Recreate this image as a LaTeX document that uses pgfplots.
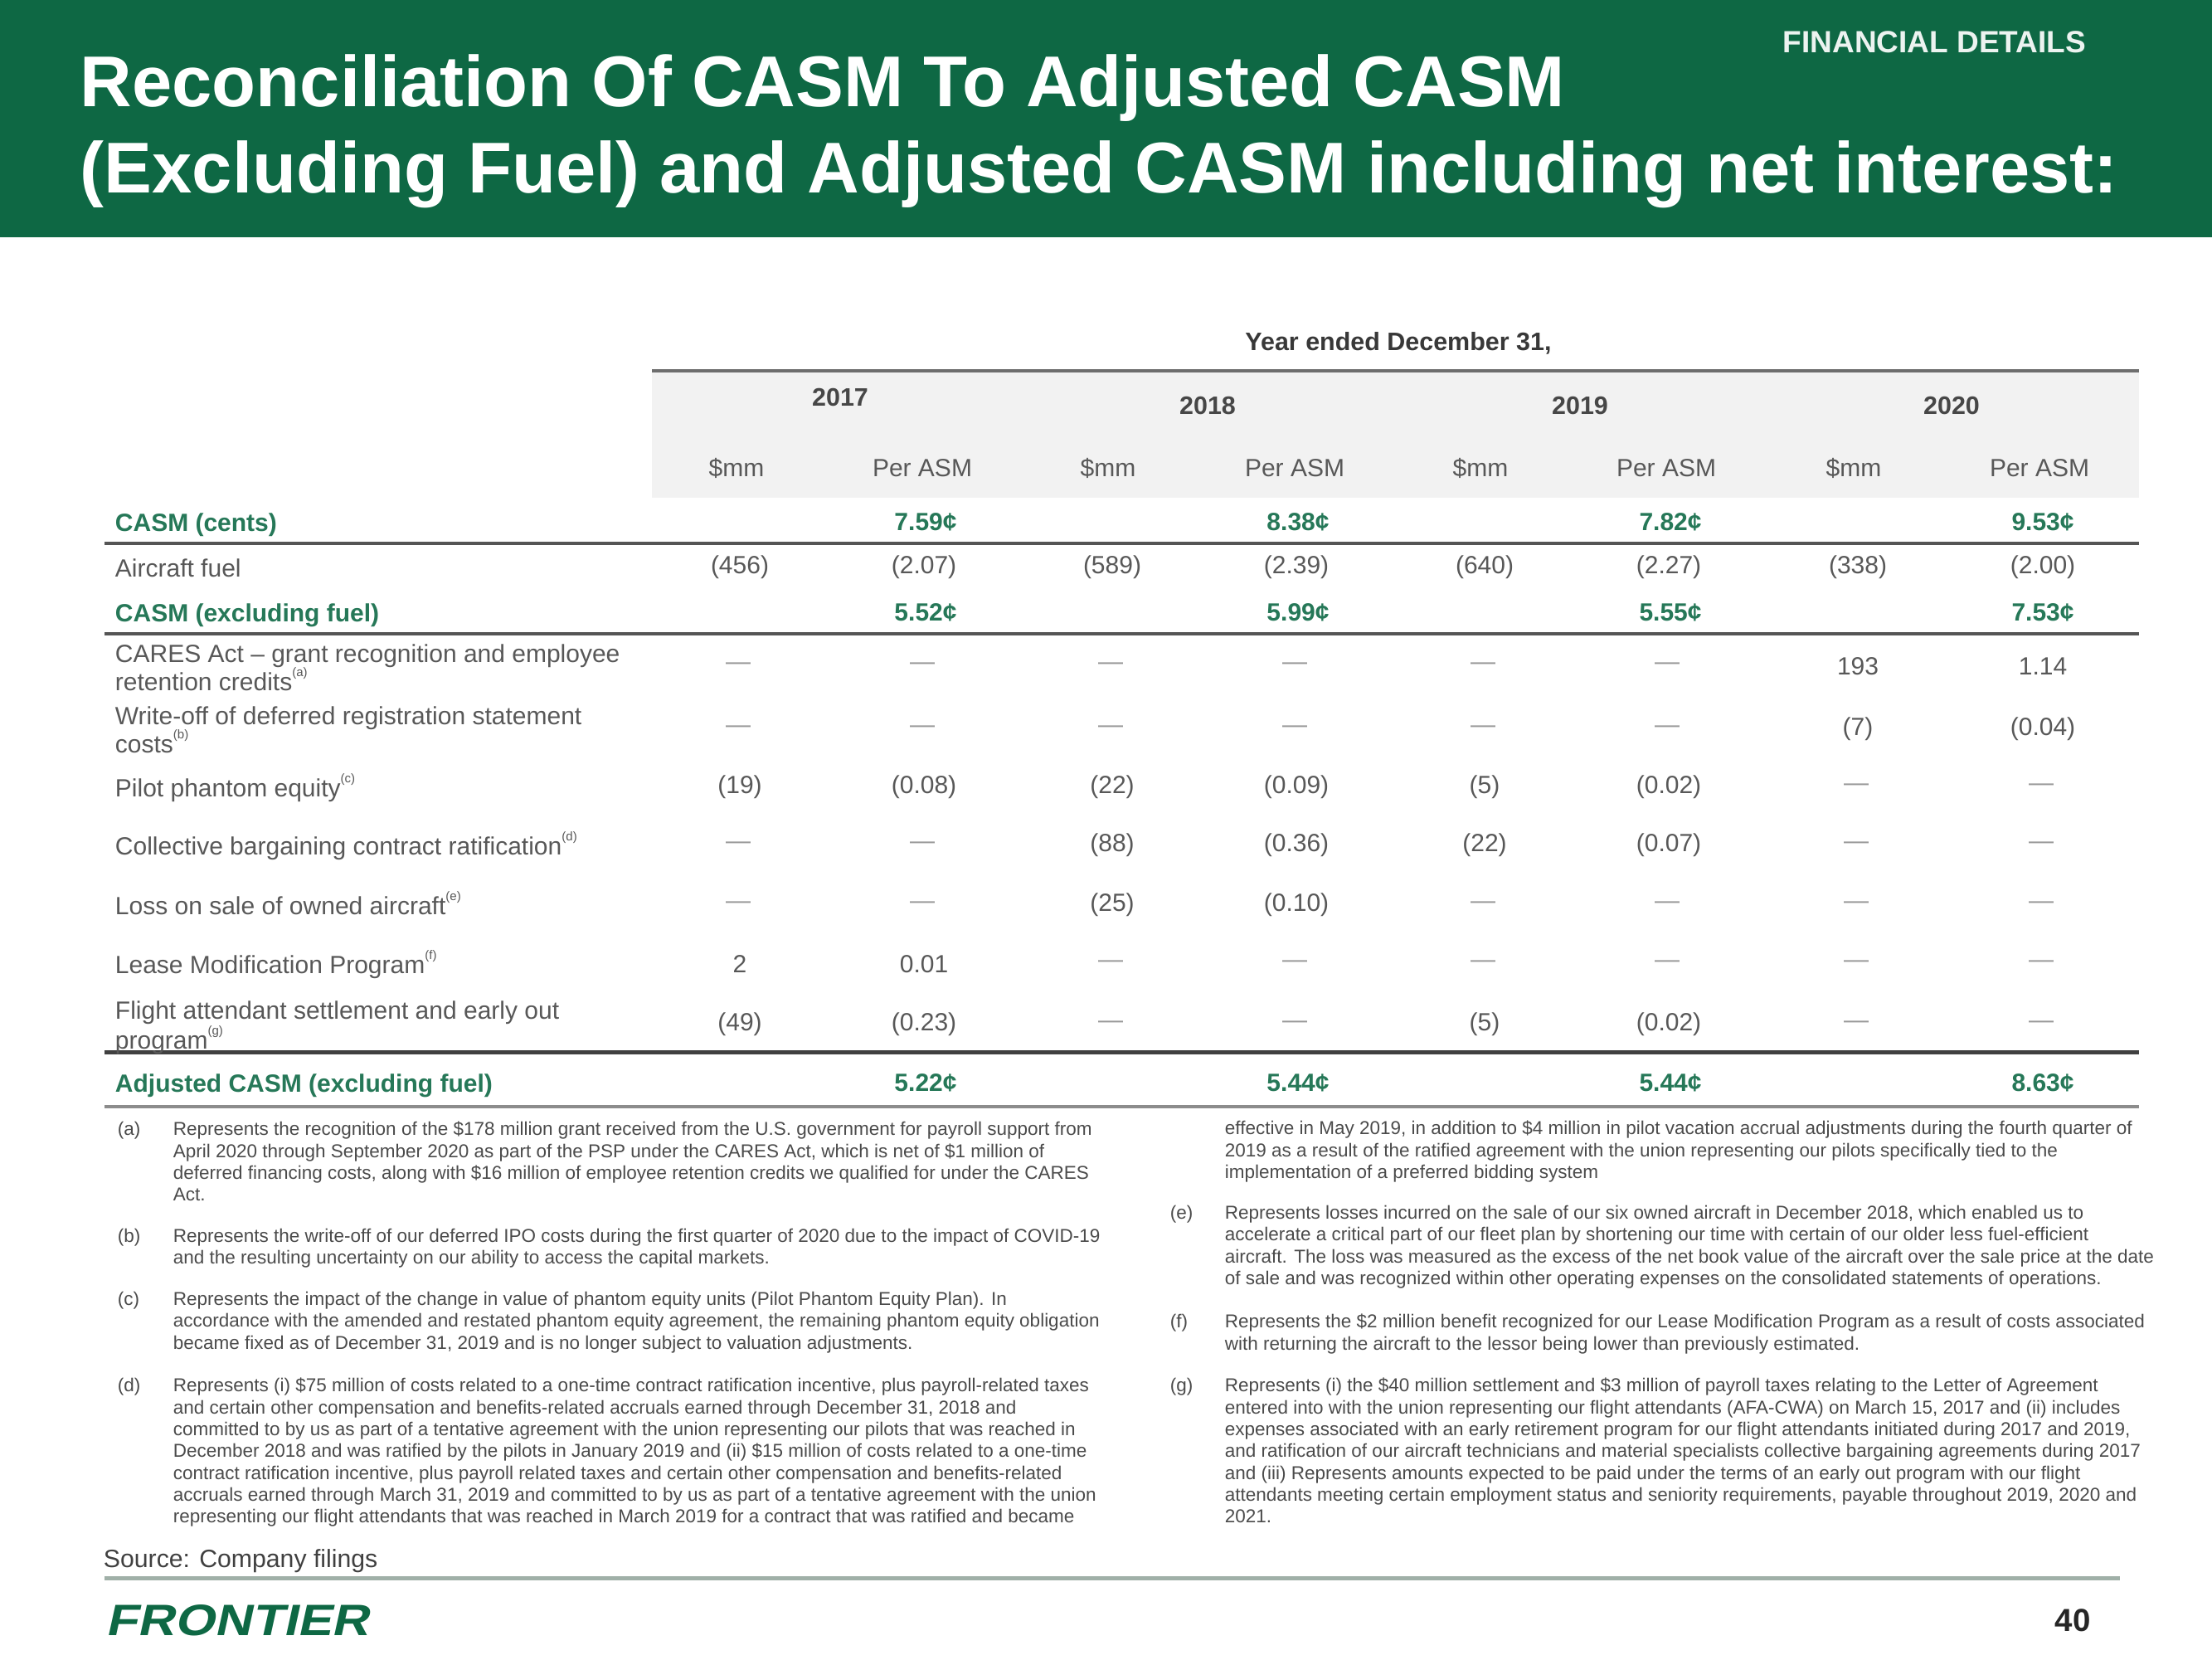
\documentclass[border=0pt]{standalone}
\usepackage{pgfplots}
\pgfplotsset{compat=1.18}
\usepackage{pgfplotstable}
\usepackage{fontspec}
\setmainfont{Liberation Sans}
\newfontfamily\logofont[UprightFont={* Bold},FakeSlant=0.22,FakeStretch=1.17]{Liberation Sans}

\definecolor{hdrgreen}{RGB}{14,104,68}
\definecolor{txtgreen}{RGB}{38,120,88}
\definecolor{txtgray}{RGB}{88,88,88}
\definecolor{boxgray}{RGB}{242,242,242}
\definecolor{rulegray}{RGB}{85,85,85}
\definecolor{fngray}{RGB}{75,75,75}
\definecolor{linegreen}{RGB}{160,176,168}

\newcommand{\fnm}[1]{\raisebox{0.55em}{\fontsize{3.2}{4}\selectfont(#1)}}

% x = column centre, y = row centre (pixel grid, 0 at top)
\pgfplotstableread{
x y val lab
892 684 -456 (456)
892 949 -19 (19)
892 1162 2 2
892 1235 -49 (49)
1341 684 -589 (589)
1341 949 -22 (22)
1341 1019 -88 (88)
1341 1091 -25 (25)
1790 684 -640 (640)
1790 949 -5 (5)
1790 1019 -22 (22)
1790 1235 -5 (5)
2240 684 -338 (338)
2240 803 193 193
2240 879 -7 (7)
1114 684 -2.07 (2.07)
1114 949 -0.08 (0.08)
1114 1162 0.01 0.01
1114 1235 -0.23 (0.23)
1563 684 -2.39 (2.39)
1563 949 -0.09 (0.09)
1563 1019 -0.36 (0.36)
1563 1091 -0.10 (0.10)
2012 684 -2.27 (2.27)
2012 949 -0.02 (0.02)
2012 1019 -0.07 (0.07)
2012 1235 -0.02 (0.02)
2463 684 -2.00 (2.00)
2463 803 1.14 1.14
2463 879 -0.04 (0.04)
}\valtable

% zero entries, shown as dashes
\pgfplotstableread{
x y val lab
890 803 0 —
890 879 0 —
890 1019 0 —
890 1091 0 —
1339 1162 0 —
1339 1235 0 —
1339 803 0 —
1339 879 0 —
1788 803 0 —
1788 879 0 —
1788 1091 0 —
1788 1162 0 —
2238 949 0 —
2238 1019 0 —
2238 1091 0 —
2238 1162 0 —
2238 1235 0 —
1112 803 0 —
1112 879 0 —
1112 1019 0 —
1112 1091 0 —
1561 803 0 —
1561 879 0 —
1561 1162 0 —
1561 1235 0 —
2010 803 0 —
2010 879 0 —
2010 1091 0 —
2010 1162 0 —
2461 949 0 —
2461 1019 0 —
2461 1091 0 —
2461 1162 0 —
2461 1235 0 —
}\zerotable

\pgfplotstableread{
x y val lab
1116 629 7.59 7.59¢
1116 738 5.52 5.52¢
1116 1305 5.22 5.22¢
1565 629 8.38 8.38¢
1565 738 5.99 5.99¢
1565 1305 5.44 5.44¢
2014 629 7.82 7.82¢
2014 738 5.55 5.55¢
2014 1305 5.44 5.44¢
2463 629 9.53 9.53¢
2463 738 7.53 7.53¢
2463 1305 8.63 8.63¢
}\totaltable

\begin{document}
\begin{tikzpicture}[
  lbl/.style={anchor=base west, inner sep=0, font=\fontsize{6.4}{7.7}\selectfont, text=txtgray},
  glbl/.style={anchor=base west, inner sep=0, font=\fontsize{6.4}{7.7}\selectfont\bfseries, text=txtgreen},
  hdr/.style={anchor=base, inner sep=0, font=\fontsize{6.4}{7.7}\selectfont, text=txtgray},
  yr/.style={anchor=base, inner sep=0, font=\fontsize{6.5}{7.8}\selectfont\bfseries, text=black!72},
  fn/.style={anchor=north west, inner sep=0, align=left, font=\fontsize{4.8}{5.62}\selectfont, text=fngray},
]
\begin{axis}[
  scale only axis, width=20cm, height=15cm,
  xmin=0, xmax=2667, ymin=0, ymax=2000, y dir=reverse,
  axis lines=none, ticks=none, clip=false,
]
% background and header band
\fill[white] (axis cs:0,0) rectangle (axis cs:2667,2000);
\fill[hdrgreen] (axis cs:0,0) rectangle (axis cs:2667,286);
\node[anchor=base west, inner sep=0, text=white, font=\fontsize{18.5}{22}\selectfont\bfseries] at (axis cs:96,128) {Reconciliation Of CASM To Adjusted CASM};
\node[anchor=base west, inner sep=0, text=white, font=\fontsize{18.5}{22}\selectfont\bfseries] at (axis cs:96,232) {(Excluding Fuel) and Adjusted CASM including net interest:};
\node[anchor=base east, inner sep=0, text=white!92!hdrgreen, font=\fontsize{7.9}{9}\selectfont\bfseries] at (axis cs:2516,63) {FINANCIAL DETAILS};

% table header
\node[anchor=base, inner sep=0, font=\fontsize{6.5}{7.8}\selectfont\bfseries, text=black!78] at (axis cs:1686,422) {Year ended December 31,};
\fill[boxgray] (axis cs:786,447) rectangle (axis cs:2579,600);
\draw[line width=0.85pt, rulegray!85] (axis cs:786,447) -- (axis cs:2579,447);
\node[yr] at (axis cs:1013,489) {2017};
\node[yr] at (axis cs:1456,499) {2018};
\node[yr] at (axis cs:1905,499) {2019};
\node[yr] at (axis cs:2353,499) {2020};
\node[hdr] at (axis cs:888,574) {\$mm};
\node[hdr] at (axis cs:1112,574) {Per ASM};
\node[hdr] at (axis cs:1336,574) {\$mm};
\node[hdr] at (axis cs:1561,574) {Per ASM};
\node[hdr] at (axis cs:1785,574) {\$mm};
\node[hdr] at (axis cs:2009,574) {Per ASM};
\node[hdr] at (axis cs:2235,574) {\$mm};
\node[hdr] at (axis cs:2459,574) {Per ASM};

% rules
\draw[line width=0.85pt, rulegray] (axis cs:126,655) -- (axis cs:2579,655);
\draw[line width=0.85pt, rulegray] (axis cs:126,764) -- (axis cs:2579,764);
\draw[line width=1.1pt, black!75] (axis cs:126,1268) -- (axis cs:2579,1268);
\draw[line width=0.8pt, black!45] (axis cs:126,1334) -- (axis cs:2579,1334);

% row labels
\node[glbl] at (axis cs:138,640) {CASM (cents)};
\node[lbl] at (axis cs:138,695) {Aircraft fuel};
\node[glbl] at (axis cs:138,749) {CASM (excluding fuel)};
\node[lbl] at (axis cs:138,798) {CARES Act -- grant recognition and employee};
\node[lbl] at (axis cs:138,832) {retention credits\fnm{a}};
\node[lbl] at (axis cs:138,873) {Write-off of deferred registration statement};
\node[lbl] at (axis cs:138,907) {costs\fnm{b}};
\node[lbl] at (axis cs:138,960) {Pilot phantom equity\fnm{c}};
\node[lbl] at (axis cs:138,1030) {Collective bargaining contract ratification\fnm{d}};
\node[lbl] at (axis cs:138,1102) {Loss on sale of owned aircraft\fnm{e}};
\node[lbl] at (axis cs:138,1173) {Lease Modification Program\fnm{f}};
\node[lbl] at (axis cs:138,1228) {Flight attendant settlement and early out};
\node[lbl] at (axis cs:138,1264) {program\fnm{g}};
\node[glbl] at (axis cs:138,1316) {Adjusted CASM (excluding fuel)};

% values
\addplot[draw=none, mark=none, nodes near coords, point meta=explicit symbolic,
  nodes near coords align={center},
  every node near coord/.append style={anchor=center, inner sep=0, font=\fontsize{6.4}{7.7}\selectfont, text=txtgray}]
  table[x=x, y=y, meta=lab] {\valtable};
\addplot[draw=none, mark=none, nodes near coords, point meta=explicit symbolic,
  nodes near coords align={center},
  every node near coord/.append style={anchor=center, inner sep=0, font=\fontsize{6.4}{7.7}\selectfont, text=black!40}]
  table[x=x, y=y, meta=lab] {\zerotable};
\addplot[draw=none, mark=none, nodes near coords, point meta=explicit symbolic,
  nodes near coords align={center},
  every node near coord/.append style={anchor=center, inner sep=0, font=\fontsize{6.4}{7.7}\selectfont\bfseries, text=txtgreen}]
  table[x=x, y=y, meta=lab] {\totaltable};

% footnotes, left column
\node[fn] at (axis cs:141,1351) {(a)};
\node[fn] at (axis cs:208,1351) {Represents the recognition of the \$178 million grant received from the U.S. government for payroll support from\\
April 2020 through September 2020 as part of the PSP under the CARES Act, which is net of \$1 million of\\
deferred financing costs, along with \$16 million of employee retention credits we qualified for under the CARES\\
Act.};
\node[fn] at (axis cs:141,1480) {(b)};
\node[fn] at (axis cs:208,1480) {Represents the write-off of our deferred IPO costs during the first quarter of 2020 due to the impact of COVID-19\\
and the resulting uncertainty on our ability to access the capital markets.};
\node[fn] at (axis cs:141,1556) {(c)};
\node[fn] at (axis cs:208,1556) {Represents the impact of the change in value of phantom equity units (Pilot Phantom Equity Plan). In\\
accordance with the amended and restated phantom equity agreement, the remaining phantom equity obligation\\
became fixed as of December 31, 2019 and is no longer subject to valuation adjustments.};
\node[fn] at (axis cs:141,1660) {(d)};
\node[fn] at (axis cs:208,1660) {Represents (i) \$75 million of costs related to a one-time contract ratification incentive, plus payroll-related taxes\\
and certain other compensation and benefits-related accruals earned through December 31, 2018 and\\
committed to by us as part of a tentative agreement with the union representing our pilots that was reached in\\
December 2018 and was ratified by the pilots in January 2019 and (ii) \$15 million of costs related to a one-time\\
contract ratification incentive, plus payroll related taxes and certain other compensation and benefits-related\\
accruals earned through March 31, 2019 and committed to by us as part of a tentative agreement with the union\\
representing our flight attendants that was reached in March 2019 for a contract that was ratified and became};

% footnotes, right column
\node[fn] at (axis cs:1476,1350) {effective in May 2019, in addition to \$4 million in pilot vacation accrual adjustments during the fourth quarter of\\
2019 as a result of the ratified agreement with the union representing our pilots specifically tied to the\\
implementation of a preferred bidding system};
\node[fn] at (axis cs:1410,1452) {(e)};
\node[fn] at (axis cs:1476,1452) {Represents losses incurred on the sale of our six owned aircraft in December 2018, which enabled us to\\
accelerate a critical part of our fleet plan by shortening our time with certain of our older less fuel-efficient\\
aircraft. The loss was measured as the excess of the net book value of the aircraft over the sale price at the date\\
of sale and was recognized within other operating expenses on the consolidated statements of operations.};
\node[fn] at (axis cs:1410,1583) {(f)};
\node[fn] at (axis cs:1476,1583) {Represents the \$2 million benefit recognized for our Lease Modification Program as a result of costs associated\\
with returning the aircraft to the lessor being lower than previously estimated.};
\node[fn] at (axis cs:1410,1660) {(g)};
\node[fn] at (axis cs:1476,1660) {Represents (i) the \$40 million settlement and \$3 million of payroll taxes relating to the Letter of Agreement\\
entered into with the union representing our flight attendants (AFA-CWA) on March 15, 2017 and (ii) includes\\
expenses associated with an early retirement program for our flight attendants initiated during 2017 and 2019,\\
and ratification of our aircraft technicians and material specialists collective bargaining agreements during 2017\\
and (iii) Represents amounts expected to be paid under the terms of an early out program with our flight\\
attendants meeting certain employment status and seniority requirements, payable throughout 2019, 2020 and\\
2021.};

% footer
\node[anchor=base west, inner sep=0, font=\fontsize{6.45}{7.7}\selectfont, text=black!75] at (axis cs:124,1889) {Source: Company filings};
\draw[line width=1pt, linegreen] (axis cs:126,1902) -- (axis cs:2556,1902);
\node[anchor=west, inner sep=0, text=hdrgreen, font=\fontsize{11.3}{13}\logofont] at (axis cs:127,1953) {FRONTIER};
\node[anchor=center, inner sep=0, text=black!85, font=\fontsize{8.2}{10}\selectfont\bfseries] at (axis cs:2499,1953) {40};
\end{axis}
\end{tikzpicture}
\end{document}
